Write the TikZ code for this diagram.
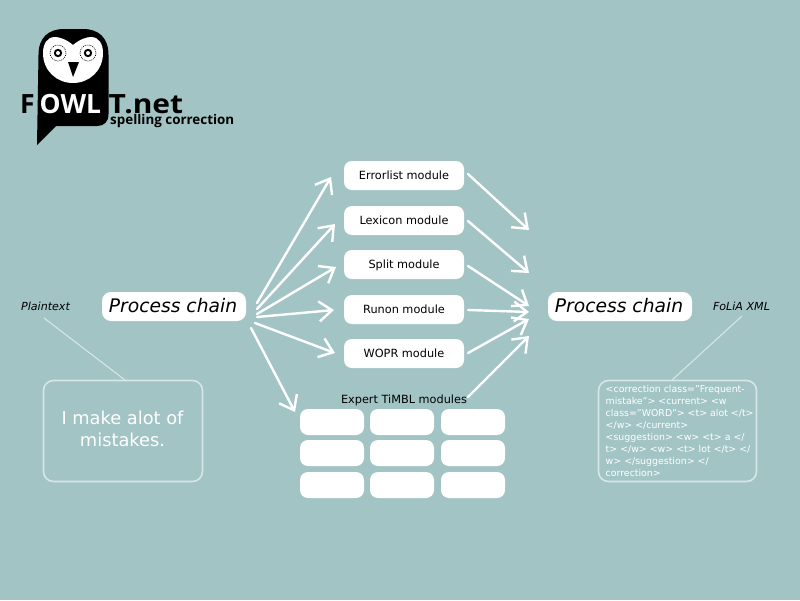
\documentclass[tikz,border=0pt]{standalone}
\usepackage{fontspec}
\setmainfont{DejaVu Sans}
\newfontfamily\logofont{Open Sans}
\usetikzlibrary{arrows.meta}
\definecolor{bg}{HTML}{A3C4C5}
\definecolor{pale}{HTML}{D6E5E5}
\newcommand{\px}[1]{\fontsize{#1}{#1}\selectfont}
\tikzset{
  x=1pt,y=-1pt,
  modbox/.style={fill=white,rounded corners=8pt,minimum width=120pt,minimum height=29pt,inner sep=0pt,font=\px{11.3},text=black,text height=8.5pt,text depth=0.5pt},
  cellbox/.style={fill=white,rounded corners=8pt,minimum width=64pt,minimum height=26pt,inner sep=0pt},
  chainbox/.style={fill=white,rounded corners=9pt,minimum width=144pt,minimum height=29pt,inner sep=0pt},
  chaintext/.style={inner sep=0pt,font=\px{18.7}\itshape,text=black},
  notebox/.style={draw=pale,line width=1.6pt,rounded corners=10pt,minimum height=101pt,inner sep=0pt},
  tag/.style={font=\px{11.1}\itshape,text=black,inner sep=0pt},
  flow/.style={draw=white,line width=2.4pt,line cap=round,-{Straight Barb[length=13pt,width=20pt,line width=2.4pt]}},
  leader/.style={draw=pale,line width=1.1pt},
  logotext/.style={inner sep=0pt,anchor=base west,font=\logofont\px{26.5}\bfseries},
  xmltext/.style={inner sep=0pt,anchor=base west,text=white,font=\px{9.4}},
  inputtext/.style={inner sep=0pt,text=white,font=\px{17.8}}
}
\begin{document}
\begin{tikzpicture}
\useasboundingbox (0,0) rectangle (800,600);
\fill[bg] (0,0) rectangle (800,600);

% logo
\fill[black] (37,145) -- (38.5,55) .. controls (38.5,38) and (48,29) .. (64,29)
  -- (83,29) .. controls (99,29) and (108.5,38) .. (108.5,55)
  -- (108.5,114) .. controls (108.5,122) and (104,126) .. (97,126) -- (56,126) -- cycle;
\fill[white] (73,45) .. controls (66,39) and (59,37) .. (55,37)
  .. controls (47,37) and (43,44) .. (43,53)
  .. controls (43,71) and (57,83) .. (73,83)
  .. controls (89,83) and (103,71) .. (103,53)
  .. controls (103,44) and (99,37) .. (91,37)
  .. controls (87,37) and (80,39) .. (73,45) -- cycle;
\foreach \ex in {58,88}{
  \draw[black,line width=0.6pt,dash pattern=on 1pt off 1pt] (\ex,53) circle (8);
  \fill[black] (\ex,53) circle (4.2);
  \fill[white] (\ex,53) circle (2);
}
\fill[black] (68,62) -- (79,62) -- (73,77) -- cycle;
\node[logotext,text=black] (logoF) at (20,113) {F};
\node[logotext,text=white] (logoOWL) at (39.5,113) {OWL};
\node[logotext,text=black,xscale=1.13] (logoT) at (108.5,113) {T.net};
\node[inner sep=0pt,anchor=base west,font=\logofont\px{13.4}\bfseries,text=black] (logosub) at (110,124.5) {spelling correction};

% module boxes
\node[modbox] (err) at (404,175.5) {Errorlist module};
\node[modbox] (lex) at (404,220.5) {Lexicon module};
\node[modbox] (spl) at (404,264.5) {Split module};
\node[modbox] (run) at (404,309.5) {Runon module};
\node[modbox] (wop) at (404,353.5) {WOPR module};

% expert grid
\node[inner sep=0pt,font=\px{11.3},text=black] (exp) at (404,400) {Expert TiMBL modules};
\node[cellbox] (c11) at (332,422) {};
\node[cellbox] (c12) at (402,422) {};
\node[cellbox] (c13) at (473,422) {};
\node[cellbox] (c21) at (332,453) {};
\node[cellbox] (c22) at (402,453) {};
\node[cellbox] (c23) at (473,453) {};
\node[cellbox] (c31) at (332,485) {};
\node[cellbox] (c32) at (402,485) {};
\node[cellbox] (c33) at (473,485) {};

% process chains
\node[chainbox] (pcl) at (174,306.5) {};
\node[chainbox] (pcr) at (620,306.5) {};
\node[chaintext] (pclt) at (173,305.5) {Process chain};
\node[chaintext] (pcrt) at (619,305.5) {Process chain};

% tags and notes
\node[tag] (plain) at (45.5,306) {Plaintext};
\node[tag] (folia) at (741.5,306) {FoLiA XML};
\node[notebox,minimum width=159pt] (input) at (123,431) {};
\node[inputtext] (in1) at (122.5,418) {I make alot of};
\node[inputtext] (in2) at (122.5,440) {mistakes.};
\node[notebox,minimum width=158pt] (output) at (677.5,431) {};
\node[xmltext] (x1) at (605.5,392) {<correction class="Frequent-};
\node[xmltext] (x2) at (605.5,404) {mistake"> <current> <w};
\node[xmltext] (x3) at (605.5,416) {class="WORD"> <t> alot </t>};
\node[xmltext] (x4) at (605.5,428) {</w> </current>};
\node[xmltext] (x5) at (605.5,440) {<suggestion> <w> <t> a </};
\node[xmltext] (x6) at (605.5,452) {t> </w> <w> <t> lot </t> </};
\node[xmltext] (x7) at (605.5,464) {w> </suggestion> </};
\node[xmltext] (x8) at (605.5,476) {correction>};

% anchors of connector ends
\coordinate (plainEnd) at (44,318);
\coordinate (inputTop) at (125,380);
\coordinate (foliaEnd) at (742,316);
\coordinate (outputTop) at (672,380);
\coordinate (s1) at (257,303);
\coordinate (s2) at (257,309);
\coordinate (s3) at (257,314);
\coordinate (s4) at (257,317);
\coordinate (s5) at (255,323);
\coordinate (s6) at (251,328);
\coordinate (t1) at (331,177);
\coordinate (t2) at (335,224);
\coordinate (t3) at (336,267);
\coordinate (t4) at (334,310);
\coordinate (t5) at (335,353);
\coordinate (t6) at (295,412);
\coordinate (o1) at (468,174);
\coordinate (o2) at (468,221);
\coordinate (o3) at (468,266);
\coordinate (o4) at (468,310);
\coordinate (o5) at (468,353);
\coordinate (o6) at (468,397);
\coordinate (p1) at (529,230);
\coordinate (p2) at (529,273);
\coordinate (p3) at (529,306);
\coordinate (p4) at (529,312);
\coordinate (p5) at (529,319);
\coordinate (p6) at (529,336);

\draw[leader] (plainEnd) -- (inputTop);
\draw[leader] (foliaEnd) -- (outputTop);
\foreach \i in {1,...,6}{
  \draw[flow] (s\i) -- (t\i);
  \draw[flow] (o\i) -- (p\i);
}
\end{tikzpicture}
\end{document}
